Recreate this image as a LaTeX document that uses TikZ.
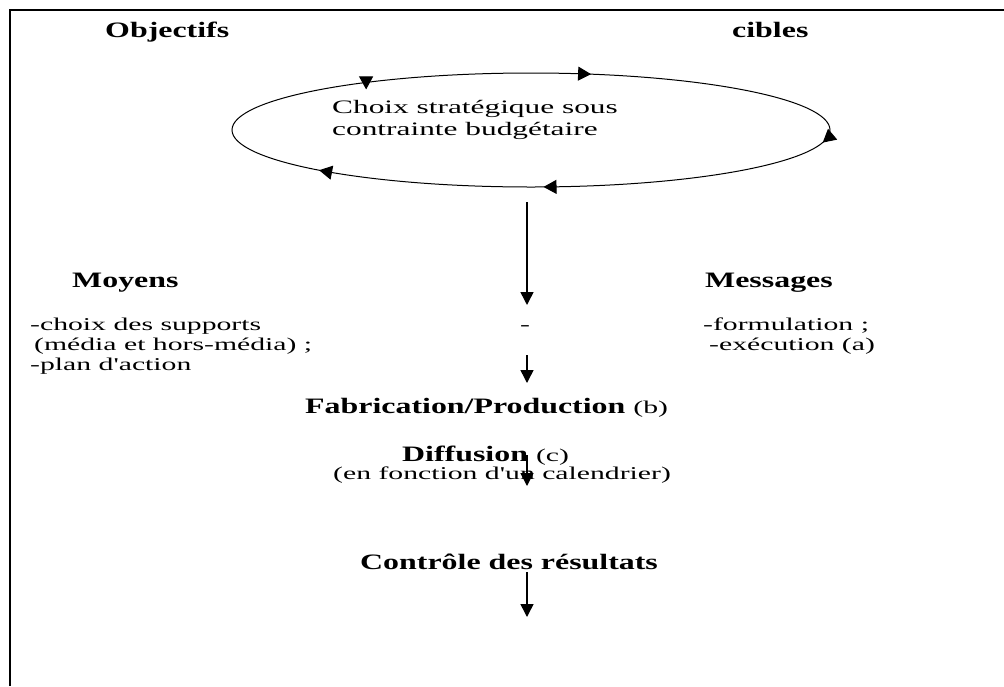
\documentclass[tikz,border=0pt]{standalone}
\usepackage{fontspec}
\setmainfont{Liberation Serif}[FakeStretch=1.45]
\newfontfamily\widefont{Liberation Serif}[FakeStretch=1.65]
\usepackage{tikz}
\usetikzlibrary{arrows.meta, positioning, decorations.markings}
\newcommand{\looptip}{\arrow{Triangle[width=14pt,length=13pt]}}
\tikzset{
  hdr/.style={inner sep=0pt, anchor=base west, font=\fontsize{22}{26}\selectfont\bfseries},
  txt/.style={inner sep=0pt, anchor=base west, align=left, font=\widefont\fontsize{18}{20}\selectfont},
  arr/.style={-{Triangle[width=13pt,length=13pt]}, line width=1.5pt},
  loop/.style={line width=1pt, postaction={decorate}, decoration={markings,
      mark=at position 0.012 with {\looptip},
      mark=at position 0.24 with {\looptip},
      mark=at position 0.42 with {\looptip},
      mark=at position 0.618 with {\pgftransformrotate{-97}\pgftransformxshift{7pt}\looptip},
      mark=at position 0.798 with {\looptip}}}
}

\begin{document}
\begin{tikzpicture}[x=1pt, y=-1pt]
  \useasboundingbox (0,0) rectangle (1004,686);
  \draw[line width=2.5pt] (10,686) -- (10,10) -- (1004,10);

  % choix strategique
  \node[hdr] (obj) at (105,37) {Objectifs};
  \node[hdr] (cib) at (732,37) {cibles};
  \draw[loop] (531,130) ellipse [x radius=299, y radius=57];
  \node[txt, font=\widefont\fontsize{19}{22}\selectfont] (choix) at (332,135)
    {Choix stratégique sous\\contrainte budgétaire};

  % moyens et messages
  \node[hdr] (moy) at (72,287) {Moyens};
  \node[hdr] (mess) at (705,287) {Messages};
  \node[txt] (supp) at (30,370)
    {-choix des supports\\\hspace*{4pt}(média et hors-média) ;\\-plan d'action};
  \node[txt] (tiret) at (520,330) {-};
  \node[txt] (form) at (703,350) {-formulation ;\\\hspace*{6pt}-exécution (a)};

  % production, diffusion, controle
  \node[hdr] (fab) at (305,413) {Fabrication/Production \widefont\mdseries\fontsize{18}{20}\selectfont(b)};
  \node[hdr] (diff) at (402,461) {Diffusion \widefont\mdseries\fontsize{18}{20}\selectfont(c)};
  \node[txt] (cal) at (333,479) {(en fonction d'un calendrier)};
  \node[hdr] (ctrl) at (360,569) {Contrôle des résultats};

  \coordinate (s1) at (527,202); \coordinate (e1) at (527,305);
  \coordinate (s2) at (527,355); \coordinate (e2) at (527,383);
  \coordinate (s3) at (527,455); \coordinate (e3) at (527,486);
  \coordinate (s4) at (527,572); \coordinate (e4) at (527,617);
  \draw[arr] (s1) -- (e1); \draw[arr] (s2) -- (e2);
  \draw[arr] (s3) -- (e3); \draw[arr] (s4) -- (e4);
\end{tikzpicture}
\end{document}
